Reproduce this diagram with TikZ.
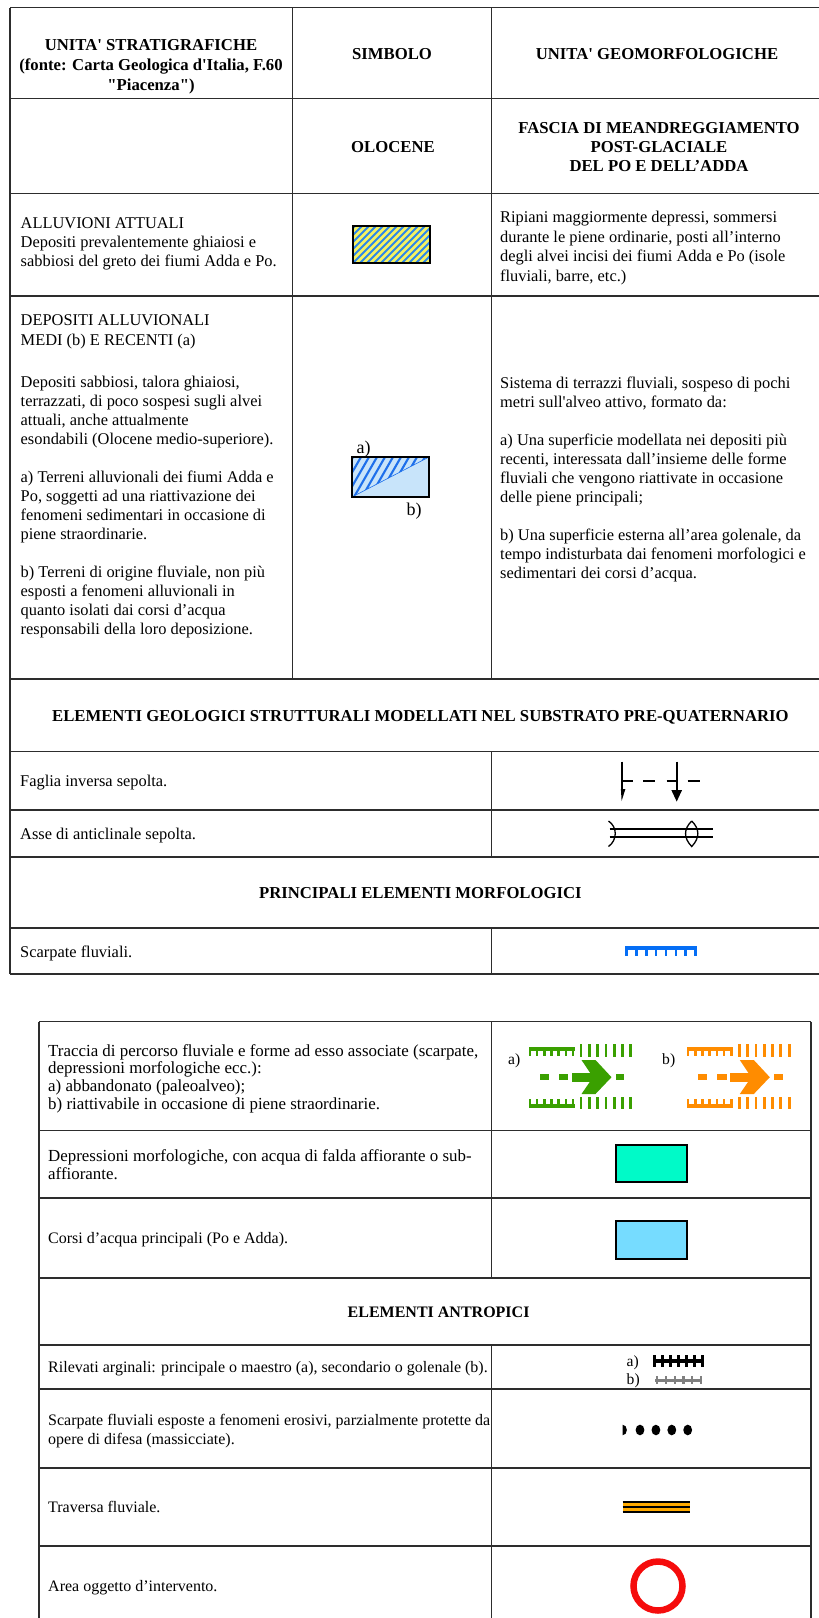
\documentclass[tikz,border=0pt]{standalone}
\usepackage{fontspec}
\setmainfont{Liberation Serif}[Ligatures=TeXOff]
\definecolor{tblline}{RGB}{45,45,45}
\definecolor{cyel}{RGB}{246,242,96}
\definecolor{chb}{RGB}{45,135,235}
\definecolor{clb}{RGB}{200,228,250}
\definecolor{chb2}{RGB}{30,112,235}
\definecolor{csb}{RGB}{5,110,245}
\definecolor{cgr}{RGB}{58,160,0}
\definecolor{corg}{RGB}{255,140,0}
\definecolor{cteal}{RGB}{0,250,200}
\definecolor{cwat}{RGB}{118,220,255}
\definecolor{cred}{RGB}{245,12,12}
\definecolor{ctrav}{RGB}{255,170,0}
\definecolor{cgray}{RGB}{128,128,128}
\newcommand\blk[2]{\vtop{\baselineskip=#1pt\relax\lineskiplimit=-20pt #2}}
\newcommand\tln[1]{\hbox{#1}}
\newcommand\riversym[2]{%
\begin{scope}[shift={(#1,0)}, #2]
% top scarpata
\fill (0,1047.3) rectangle (46,1051.2);
\foreach \i in {0,...,6} \fill (\i*7.2,1050) rectangle (\i*7.2+2.6,1055.5);
\foreach \i in {0,...,6} \fill (51.1+\i*8.3,1044) rectangle (51.1+\i*8.3+2.8,1056.5);
% bottom scarpata
\fill (0,1103.8) rectangle (46,1107.7);
\foreach \i in {0,...,6} \fill (\i*7.2,1099) rectangle (\i*7.2+2.6,1105);
\foreach \i in {0,...,6} \fill (51.1+\i*8.3,1096.5) rectangle (51.1+\i*8.3+2.8,1109);
% middle arrow
\fill (11.5,1074.3) rectangle (20,1080);
\fill (30,1074.3) rectangle (39.8,1080);
\fill (43.3,1072.8) rectangle (69.5,1081.8);
\fill (53,1060) -- (67,1060) -- (83,1077.2) -- (67,1094) -- (53,1094) -- (64.5,1077.2) -- cycle;
\fill (87.5,1074.3) rectangle (95.8,1080);
\end{scope}}
\begin{document}
\begin{tikzpicture}[x=1pt,y=-1pt,
  tl/.style={draw=tblline, line width=1.1pt},
  txt/.style={anchor=base west, inner sep=0pt, font=\fontsize{16.4}{19}\selectfont},
  hd/.style={anchor=base, inner sep=0pt, font=\fontsize{16.7}{19}\selectfont\bfseries},
  ltxt/.style={anchor=base west, inner sep=0pt, font=\fontsize{16}{18}\selectfont},
  ltxtw/.style={anchor=base west, inner sep=0pt, font=\fontsize{16.9}{18}\selectfont},
  lhd/.style={anchor=base, inner sep=0pt, font=\fontsize{16}{18}\selectfont\bfseries},
  lab/.style={anchor=base west, inner sep=0pt, font=\fontsize{18}{20}\selectfont},
  llab/.style={anchor=base west, inner sep=0pt, font=\fontsize{15.6}{18}\selectfont}]
\useasboundingbox (0,0) rectangle (819,1618);
\fill[white] (0,0) rectangle (819,1618);
% ---------- upper table grid
\foreach \y in {7.5,98.7,193.5,296,679,751.7,810,857,928,974} \draw[tl] (10,\y) -- (819,\y);
\draw[tl] (10,7.5) -- (10,974);
\draw[tl] (292.7,7.5) -- (292.7,679);
\draw[tl] (491.7,7.5) -- (491.7,679);
\draw[tl] (491.7,751.7) -- (491.7,857);
\draw[tl] (491.7,928) -- (491.7,974);
% ---------- lower table grid
\foreach \y in {1021.5,1130.5,1198,1278,1345,1389,1468,1546} \draw[tl] (39,\y) -- (811,\y);
\draw[tl] (39,1021.5) -- (39,1618);
\draw[tl] (811,1021.5) -- (811,1618);
\draw[tl] (491.7,1021.5) -- (491.7,1278);
\draw[tl] (491.7,1345) -- (491.7,1618);
% ---------- header
\node[hd] (h1a) at (151,50) {UNITA' STRATIGRAFICHE};
\node[hd] (h1b) at (151,70) {(fonte: Carta Geologica d'Italia, F.60};
\node[hd] (h1c) at (151,90) {"Piacenza")};
\node[hd] (h2) at (392,59) {SIMBOLO};
\node[hd] (h3) at (657,59) {UNITA' GEOMORFOLOGICHE};
\node[hd] (olo) at (393,152.5) {OLOCENE};
\node[hd] (f1) at (659,133) {FASCIA DI MEANDREGGIAMENTO};
\node[hd] (f2) at (659,152.5) {POST-GLACIALE};
\node[hd] (f3) at (659,171.5) {DEL PO E DELL’ADDA};
% ---------- alluvioni attuali
\node[txt] (all) at (20.5,228.5) {\blk{19}{\tln{ALLUVIONI ATTUALI}\tln{Depositi prevalentemente ghiaiosi e}\tln{sabbiosi del greto dei fiumi Adda e Po.}}};
\node[txt] (rip) at (500,222.5) {\blk{19.5}{\tln{Ripiani maggiormente depressi, sommersi}\tln{durante le piene ordinarie, posti all’interno}\tln{degli alvei incisi dei fiumi Adda e Po (isole}\tln{fluviali, barre, etc.)}}};
\begin{scope}
\clip (353,226) rectangle (430,263);
\fill[cyel] (353,226) rectangle (430,263);
\foreach \k in {-42,-35,...,82} \draw[chb, line width=1.9] (353+\k,263) -- (353+\k+37,226);
\end{scope}
\draw[line width=2.2] (353,226) rectangle (430,263);
% ---------- depositi alluvionali
\node[txt] (dep1) at (20.5,325) {DEPOSITI ALLUVIONALI};
\node[txt] (dep2) at (20.5,345) {MEDI (b) E RECENTI (a)};
\node[txt] (dep3) at (20.5,387) {\blk{19.05}{\tln{Depositi sabbiosi, talora ghiaiosi,}\tln{terrazzati, di poco sospesi sugli alvei}\tln{attuali, anche attualmente}\tln{esondabili (Olocene medio-superiore).}\tln{}\tln{a) Terreni alluvionali dei fiumi Adda e}\tln{Po, soggetti ad una riattivazione dei}\tln{fenomeni sedimentari in occasione di}\tln{piene straordinarie.}\tln{}\tln{b) Terreni di origine fluviale, non più}\tln{esposti a fenomeni alluvionali in}\tln{quanto isolati dai corsi d’acqua}\tln{responsabili della loro deposizione.}}};
\node[txt] (sis) at (500,388) {\blk{19.07}{\tln{Sistema di terrazzi fluviali, sospeso di pochi}\tln{metri sull'alveo attivo, formato da:}\tln{}\tln{a) Una superficie modellata nei depositi più}\tln{recenti, interessata dall’insieme delle forme}\tln{fluviali che vengono riattivate in occasione}\tln{delle piene principali;}\tln{}\tln{b) Una superficie esterna all’area golenale, da}\tln{tempo indisturbata dai fenomeni morfologici e}\tln{sedimentari dei corsi d’acqua.}}};
\fill[clb] (352,457) rectangle (429,497);
\begin{scope}
\clip (352,497) -- (352,457) -- (429,457) -- cycle;
\foreach \k in {-30,-22,...,80} \draw[chb2, line width=2.1] (352+\k,497) -- (352+\k+23,457);
\end{scope}
\draw[chb2, line width=0.6] (352,497) -- (429,457);
\draw[line width=2] (352,457) rectangle (429,497);
\node[lab] (la) at (356.5,453) {a)};
\node[lab] (lb) at (406.5,515) {b)};
% ---------- elementi geologici
\node[hd] (eg) at (420.4,721.5) {ELEMENTI GEOLOGICI STRUTTURALI MODELLATI NEL SUBSTRATO PRE-QUATERNARIO};
\node[txt] (fag) at (20,786) {Faglia inversa sepolta.};
\node[txt] (asse) at (20,839.5) {Asse di anticlinale sepolta.};
\draw[line width=2.3] (622.3,761.7) -- (622.3,792);
\fill (620.9,789) -- (625.4,789) -- (621.6,801) -- cycle;
\draw[line width=2.3] (622.3,780.7) -- (632.7,780.7);
\draw[line width=2.3] (643.3,780.7) -- (655,780.7);
\draw[line width=2.3] (666.7,780.7) -- (676.7,780.7);
\draw[line width=2.3] (676.7,761.7) -- (676.7,792);
\fill (671.3,790) -- (682.1,790) -- (676.7,801.5) -- cycle;
\draw[line width=2.3] (687.7,780.7) -- (700,780.7);
\draw[line width=2.2] (609.5,829.3) -- (713.3,829.3);
\draw[line width=2.2] (609.5,837.3) -- (713.3,837.3);
\draw[line width=1.3] (608.5,821) .. controls (617.5,827) and (617.5,840) .. (608.5,846.5);
\draw[line width=1.3] (691.7,821) .. controls (683.5,829) and (683.5,838) .. (691.7,846.5) .. controls (699.9,838) and (699.9,829) .. (691.7,821);
% ---------- principali elementi morfologici
\node[hd] (pem) at (420.4,898.5) {PRINCIPALI ELEMENTI MORFOLOGICI};
\node[txt] (scf) at (20,957) {Scarpate fluviali.};
\fill[csb] (625,945.8) rectangle (697,949.6);
\foreach \i in {0,...,7} \fill[csb] (625+\i*9.9,949) rectangle (625+\i*9.9+2.7,955.5);
% ---------- lower table
\node[ltxtw] (tra) at (48,1056) {\blk{17.9}{\tln{Traccia di percorso fluviale e forme ad esso associate (scarpate,}\tln{depressioni morfologiche ecc.):}\tln{a) abbandonato (paleoalveo);}\tln{b) riattivabile in occasione di piene straordinarie.}}};
\node[llab] (ra) at (508,1064) {a)};
\node[llab] (rb) at (662,1064) {b)};
\riversym{528.5}{cgr}
\riversym{686.8}{corg}
\node[ltxtw] (dpm) at (48,1161) {\blk{18.5}{\tln{Depressioni morfologiche, con acqua di falda affiorante o sub-}\tln{affiorante.}}};
\fill[cteal] (615.5,1145) rectangle (686.5,1182);
\draw[line width=2] (615.5,1145) rectangle (686.5,1182);
\node[ltxt] (cor) at (48,1243.5) {Corsi d’acqua principali (Po e Adda).};
\fill[cwat] (615.5,1220.5) rectangle (686.5,1258.5);
\draw[line width=2] (615.5,1220.5) rectangle (686.5,1258.5);
\node[lhd] (ea) at (438.6,1317) {ELEMENTI ANTROPICI};
\node[ltxt] (ril) at (48,1372) {Rilevati arginali: principale o maestro (a), secondario o golenale (b).};
\node[llab] (rla) at (626.5,1366.5) {a)};
\node[llab] (rlb) at (626.5,1384.5) {b)};
\fill (653.8,1359.2) rectangle (702.9,1363.2);
\foreach \i in {0,...,6} \fill (653.3+\i*8,1354.5) rectangle (655.9+\i*8,1367);
\fill[cgray] (655.3,1378.5) rectangle (701.3,1382);
\foreach \i in {0,...,5} \fill[cgray] (656+\i*8.8,1376) rectangle (658.1+\i*8.8,1384);
\node[ltxt] (sce) at (48,1425.5) {\blk{18.5}{\tln{Scarpate fluviali esposte a fenomeni erosivi, parzialmente protette da}\tln{opere di difesa (massicciate).}}};
\begin{scope}
\clip (622.5,1420) rectangle (632,1440);
\fill (622.5,1430) ellipse (4.4 and 5.3);
\end{scope}
\foreach \k in {0,...,3} \fill (640+\k*15.9,1430) ellipse (4.4 and 5.3);
\node[ltxt] (trv) at (48,1512) {Traversa fluviale.};
\fill[ctrav] (622.5,1501.8) rectangle (690.3,1512.8);
\draw[line width=1.3] (622.5,1502) -- (690.3,1502);
\draw[line width=1.6] (622.5,1507) -- (690.3,1507);
\draw[line width=1.8] (622.5,1512.2) -- (690.3,1512.2);
\node[ltxt] (are) at (48,1591) {Area oggetto d’intervento.};
\draw[cred, line width=6.5] (658,1586) circle (24.5);
\end{tikzpicture}
\end{document}
